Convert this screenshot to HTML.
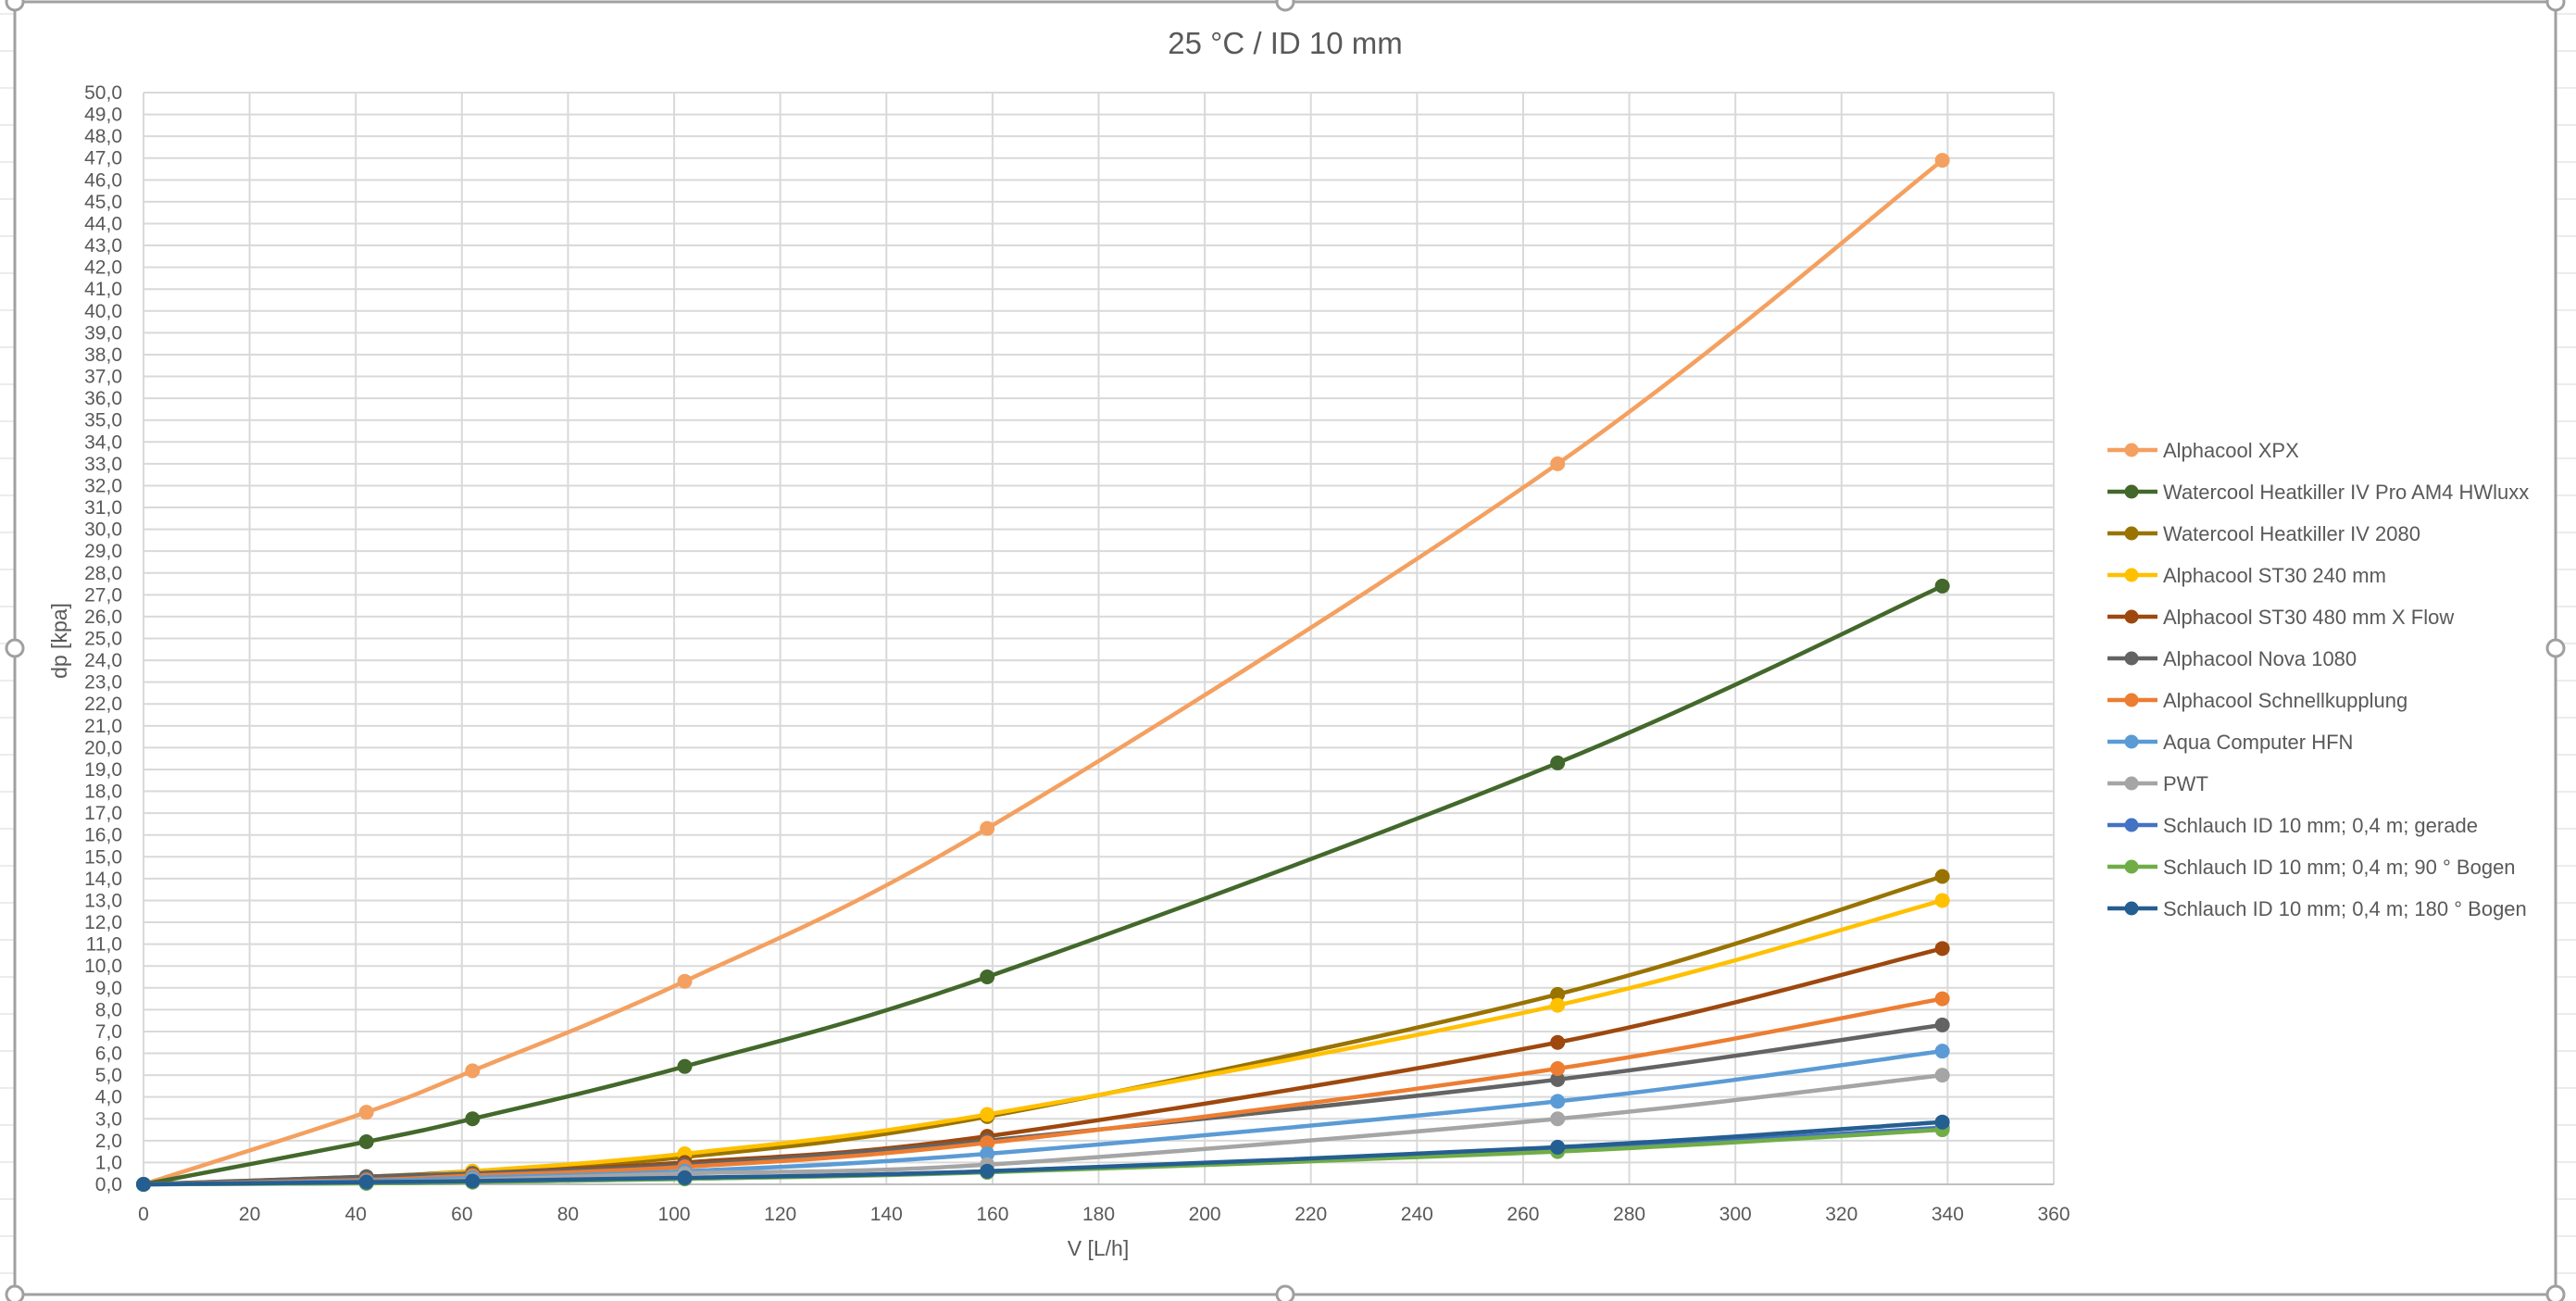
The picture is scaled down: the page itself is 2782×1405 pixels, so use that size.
<!DOCTYPE html>
<html><head><meta charset="utf-8"><style>
html,body{margin:0;padding:0;background:#fff;}
svg{display:block;font-family:"Liberation Sans",sans-serif;}
</style></head><body>
<svg id="s" width="2782" height="1405" viewBox="0 0 2782 1405" xmlns="http://www.w3.org/2000/svg">
<rect x="0" y="0" width="2782" height="1405" fill="#fff"/>
<g id="bg" stroke="#d9d9d9" stroke-width="1"></g>
<rect x="16" y="2" width="2744" height="1396" fill="#fff" stroke="#a0a0a0" stroke-width="3"/>
<g id="grid" stroke="#d9d9d9" stroke-width="2"></g>
<g id="labels" fill="#595959" font-size="21"></g>
<text x="1388" y="58" text-anchor="middle" font-size="33" fill="#595959">25 °C / ID 10 mm</text>
<text x="0" y="0" transform="translate(72,692) rotate(-90)" text-anchor="middle" font-size="23" fill="#595959">dp [kpa]</text>
<text x="1186" y="1356" text-anchor="middle" font-size="23" fill="#595959">V [L/h]</text>
<g id="series"></g>
<g id="legend" font-size="22" fill="#595959"></g>
<g fill="#fff" stroke="#a0a0a0" stroke-width="3">
<circle cx="16" cy="2" r="9"/><circle cx="1388" cy="2" r="9"/><circle cx="2760" cy="2" r="9"/>
<circle cx="16" cy="700" r="9"/><circle cx="2760" cy="700" r="9"/>
<circle cx="16" cy="1398" r="9"/><circle cx="1388" cy="1398" r="9"/><circle cx="2760" cy="1398" r="9"/>
</g>
</svg>
<script>
var NS="http://www.w3.org/2000/svg";
function el(p,t,a,txt){var e=document.createElementNS(NS,t);for(var k in a)e.setAttribute(k,a[k]);if(txt!=null)e.textContent=txt;document.getElementById(p).appendChild(e);return e;}
for(var y=0;y<1405;y+=40){el("bg","line",{x1:0,y1:y+15,x2:16,y2:y+15});el("bg","line",{x1:2760,y1:y+15,x2:2782,y2:y+15});}
var X0=155,X1=2218,Y0=1279,Y1=100;
function px(v){return X0+(X1-X0)*v/360;}
function py(v){return Y0-(Y0-Y1)*v/50;}
for(var i=0;i<=50;i++){var y=py(i);el("grid","line",{x1:X0,y1:y,x2:X1,y2:y});
el("labels","text",{x:132,y:y+7,"text-anchor":"end"},i.toFixed(1).replace(".",","));}
for(var v=0;v<=360;v+=20){var x=px(v);el("grid","line",{x1:x,y1:Y1,x2:x,y2:Y0});
el("labels","text",{x:x,y:Y0+39,"text-anchor":"middle"},""+v);}
el("grid","line",{x1:X0,y1:Y0,x2:X1,y2:Y0,stroke:"#bfbfbf"});
var xs=[0,42,62,102,159,266.5,339];
var S=[
["Alphacool XPX","#F4A060",[0,3.3,5.2,9.3,16.3,33.0,46.9]],
["Watercool Heatkiller IV Pro AM4 HWluxx","#43682B",[0,1.95,3.0,5.4,9.5,19.3,27.4]],
["Watercool Heatkiller IV 2080","#997300",[0,0.35,0.6,1.25,3.1,8.7,14.1]],
["Alphacool ST30 240 mm","#FFC000",[0,0.3,0.6,1.4,3.2,8.2,13.0]],
["Alphacool ST30 480 mm X Flow","#9E480E",[0,0.3,0.5,1.0,2.2,6.5,10.8]],
["Alphacool Nova 1080","#636363",[0,0.35,0.5,0.9,2.0,4.8,7.3]],
["Alphacool Schnellkupplung","#ED7D31",[0,0.2,0.4,0.8,1.9,5.3,8.5]],
["Aqua Computer HFN","#5B9BD5",[0,0.15,0.3,0.6,1.4,3.8,6.1]],
["PWT","#A5A5A5",[0,0.1,0.2,0.5,0.9,3.0,5.0]],
["Schlauch ID 10 mm; 0,4 m; gerade","#4472C4",[0,0.05,0.1,0.25,0.6,1.6,2.6]],
["Schlauch ID 10 mm; 0,4 m; 90 ° Bogen","#70AD47",[0,0.05,0.1,0.25,0.55,1.5,2.5]],
["Schlauch ID 10 mm; 0,4 m; 180 ° Bogen","#255E91",[0,0.1,0.15,0.3,0.6,1.7,2.85]]
];
S.forEach(function(s,k){
 var P=xs.map(function(x,i){return [px(x),py(s[2][i])];});
 var d="M"+P[0][0]+","+P[0][1];
 for(var i=0;i<P.length-1;i++){
  var p0=P[Math.max(0,i-1)],p1=P[i],p2=P[i+1],p3=P[Math.min(P.length-1,i+2)];
  var c1=[p1[0]+(p2[0]-p0[0])/6,p1[1]+(p2[1]-p0[1])/6];
  var c2=[p2[0]-(p3[0]-p1[0])/6,p2[1]-(p3[1]-p1[1])/6];
  d+=" C"+c1[0]+","+c1[1]+" "+c2[0]+","+c2[1]+" "+p2[0]+","+p2[1];
 }
 el("series","path",{d:d,fill:"none",stroke:s[1],"stroke-width":4.5,"stroke-linejoin":"round"});
 P.forEach(function(p){el("series","circle",{cx:p[0],cy:p[1],r:8,fill:s[1]});});
 var ly=486+k*45;
 el("legend","line",{x1:2276,y1:ly,x2:2330,y2:ly,stroke:s[1],"stroke-width":4.5});
 el("legend","circle",{cx:2302,cy:ly,r:7.5,fill:s[1]});
 el("legend","text",{x:2336,y:ly+8},s[0]);
});
</script>
</body></html>
